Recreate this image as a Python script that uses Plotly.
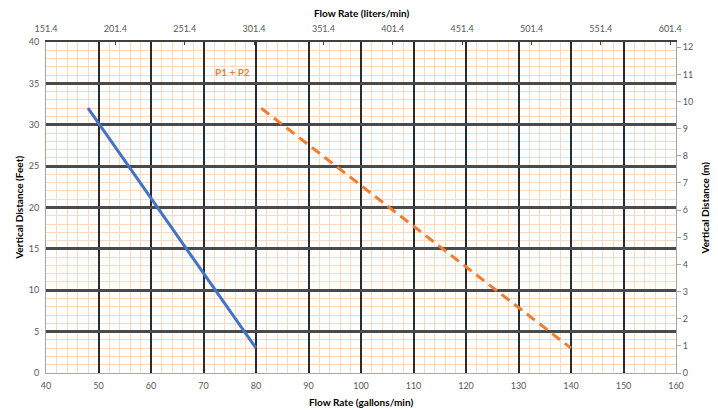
import plotly.graph_objects as go

p1_gpm = [48, 80]
p1_ft = [32, 3]
p12_gpm = [81, 140]
p12_ft = [32, 3]

gpm_ticks = [40, 50, 60, 70, 80, 90, 100, 110, 120, 130, 140, 150, 160]
lpm_ticks = [151.4, 201.4, 251.4, 301.4, 351.4, 401.4, 451.4, 501.4, 551.4, 601.4]
ft_ticks = [0, 5, 10, 15, 20, 25, 30, 35, 40]
m_ticks = [0, 1, 2, 3, 4, 5, 6, 7, 8, 9, 10, 11, 12]

GAL_L = 3.785
FT_M = 0.3048

tickfont = dict(family="Lato, Open Sans, sans-serif", size=9, color="#595959")
titlefont = dict(family="Lato, Open Sans, sans-serif", size=10, color="#000000")
minor_col = "#FAD9BE"

fig = go.Figure()
fig.add_scatter(x=p1_gpm, y=p1_ft, mode="lines",
                line=dict(color="#4472C4", width=3), showlegend=False)
fig.add_scatter(x=p12_gpm, y=p12_ft, mode="lines",
                line=dict(color="#ED7D31", width=3, dash="10px,6px"), showlegend=False)
# invisible helpers so the secondary axes get drawn
fig.add_scatter(x=[lpm_ticks[0]], y=[0], xaxis="x2", yaxis="y", mode="markers",
                marker=dict(opacity=0), showlegend=False, hoverinfo="skip")
fig.add_scatter(x=[40], y=[0], xaxis="x", yaxis="y2", mode="markers",
                marker=dict(opacity=0), showlegend=False, hoverinfo="skip")

# page body has an 8px margin, so the figure is 8px smaller and shifted
fig.update_layout(
    template="none",
    width=710, height=402,
    margin=dict(l=38, r=42, t=34, b=37),
    plot_bgcolor="white", paper_bgcolor="white",
    xaxis=dict(range=[40, 160], tickvals=gpm_ticks, tickfont=tickfont,
               showgrid=True, gridcolor="#2b2b2b", gridwidth=2,
               minor=dict(dtick=2, tick0=40, showgrid=True, gridcolor=minor_col, gridwidth=1),
               showline=True, linecolor="#A6A6A6", linewidth=1, automargin=False,
               zeroline=False, ticks="", ticklabelstandoff=4),
    xaxis2=dict(range=[40 * GAL_L, 160 * GAL_L], tickvals=lpm_ticks,
                ticktext=[f"{v:.1f}" for v in lpm_ticks],
                overlaying="x", side="top", tickfont=tickfont, automargin=False,
                showgrid=False, showline=True, linecolor="#404040", linewidth=2,
                ticks="inside", ticklen=3, tickcolor="#404040", zeroline=False,
                ticklabelstandoff=4),
    yaxis=dict(range=[0, 40], tickvals=ft_ticks, tickfont=tickfont,
               showgrid=True, gridcolor="#4a4a4a", gridwidth=2.5,
               minor=dict(dtick=1, showgrid=True, gridcolor=minor_col, gridwidth=1),
               showline=True, linecolor="#A6A6A6", linewidth=1, automargin=False,
               zeroline=False, ticks="", ticklabelstandoff=4),
    yaxis2=dict(range=[0, 40 * FT_M], tickvals=m_ticks, overlaying="y", side="right",
                tickfont=tickfont, showgrid=False, showline=True, automargin=False,
                linecolor="#A6A6A6", linewidth=1, ticks="outside", ticklen=4,
                tickcolor="#A6A6A6", zeroline=False),
    annotations=[
        dict(text="<b>Flow Rate (gallons/min)</b>", xref="paper", yref="paper",
             x=0.5, y=-0.087, yanchor="middle", showarrow=False, font=titlefont),
        dict(text="<b>Flow Rate (liters/min)</b>", xref="paper", yref="paper",
             x=0.5, y=1.087, yanchor="middle", showarrow=False, font=titlefont),
        dict(text="<b>Vertical Distance (Feet)</b>", xref="paper", yref="paper",
             x=-0.044, y=0.5, xanchor="center", yanchor="middle", textangle=-90,
             showarrow=False, font=titlefont),
        dict(text="<b>Vertical Distance (m)</b>", xref="paper", yref="paper",
             x=1.046, y=0.5, xanchor="center", yanchor="middle", textangle=-90,
             showarrow=False, font=titlefont),
        dict(text="<b>P1 + P2</b>", x=75.6, y=36.4, xref="x", yref="y",
             showarrow=False, font=dict(family="Lato, sans-serif", size=10, color="#ED7D31")),
    ],
)

fig.write_html("out.html")
